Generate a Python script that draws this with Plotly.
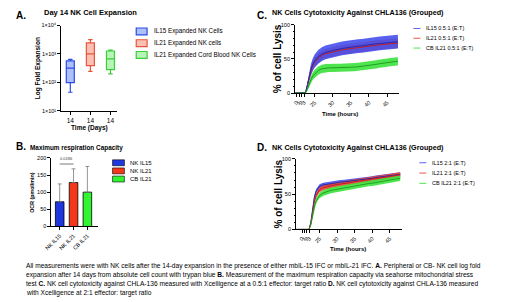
import plotly.graph_objects as go

W, H = 520, 302
def fx(p): return p / W
def fy(p): return 1 - p / H

FONT = "Liberation Sans, Arial, Helvetica, sans-serif"

# ---------------- Panel A data ----------------
a_series = ["IL15 Expanded NK Cells", "IL21 Expanded NK cells", "IL21 Expanded Cord Blood NK Cells"]
a_tick_labels = ["14", "14", "14"]
a_min = [45, 245, 200]
a_q1 = [98, 390, 280]
a_median = [320, 1000, 670]
a_q3 = [570, 2450, 1270]
a_max = [650, 3200, 1370]
a_yticks = [10, 100, 1000, 10000]
a_ytick_labels = ["1×10¹", "1×10²", "1×10³", "1×10⁴"]

# ---------------- Panel B data ----------------
b_groups = ["NK IL15", "NK IL21", "CB IL21"]
b_ocr = [72, 128, 100]
b_sd = [52, 40, 75]
b_p_label = "0.0186"
b_yticks = [0, 50, 100, 150, 200]

# ---------------- Panel C / D data ----------------
time_h = [18, 19, 20, 21, 22, 22.5, 23, 23.5, 24, 24.5,
          25, 26, 27, 28, 29, 30, 31, 32, 33, 34, 35, 36,
          37, 38, 39, 40, 41, 42, 43, 44, 45, 46, 47, 48]
t_ticks = [20, 20.7, 21.4, 22.1, 25, 30, 35, 40, 45]
t_tick_labels = ["0", "1", "2", "3", "25", "30", "35", "40", "45"]

c_series = ["IL15 0.5:1 (E:T)", "IL21 0.5:1 (E:T)", "CB IL21 0.5:1 (E:T)"]
c_il15 = [0, 0, 0, 0, 0, 1, 12, 25, 35, 42,
          47, 53, 57, 59.5, 61, 62.5, 63.5, 64.5, 65.5, 66.5, 67, 68,
          68.5, 69, 70, 70.5, 71, 72, 72.5, 73, 73.5, 74, 74.5, 75]
c_il15_err = [0, 0, 0, 0, 0, 0.5, 4, 6, 8, 9,
              9.5, 10, 10, 10, 10, 10, 10, 10, 10, 10, 10, 10,
              10, 10, 10, 10, 10, 10, 10, 10, 10, 10, 10, 10]
c_il21 = [0, 0, 0, 0, 0, 1, 11, 23, 33, 40,
          45, 51, 55, 57.5, 59, 60.5, 61.5, 62.5, 63.5, 64.5, 65, 66,
          66.5, 67, 68, 68.5, 69, 70, 70.5, 71, 71.5, 72, 72.5, 73]
c_il21_err = [0, 0, 0, 0, 0, 0.5, 3, 5, 7, 7,
              7, 7, 7, 7, 7, 7, 7, 7, 7, 7, 7, 7,
              7, 7, 7, 7, 7, 7, 7, 7, 7, 7, 7, 7]
c_cb = [0, 0, 0, 0, 0, 0.5, 6, 14, 20, 25,
        28, 33, 35.5, 36.5, 37, 37, 37, 37, 37, 37, 37.5, 38,
        38.5, 39, 40, 40.5, 41.5, 42, 43, 44, 44.5, 45.5, 46, 46.5]
c_cb_err = [0, 0, 0, 0, 0, 0.5, 3, 4, 5, 5.5,
            6, 6, 6, 6, 6, 6, 6, 6, 6, 6, 6, 6,
            6, 6, 6, 6, 6, 6, 6, 6, 6, 6, 6, 6]

d_series = ["IL15 2:1 (E:T)", "IL21 2:1 (E:T)", "CB IL21 2:1 (E:T)"]
d_il15 = [0, 0, 0, 0, 0, 10, 30, 45, 54, 58,
          61, 63, 64, 65, 65.5, 66, 67, 67.5, 68, 68.5, 69.5, 70,
          70.5, 71.5, 72, 72.5, 73.5, 74, 74.5, 75.5, 76, 76.5, 77, 78]
d_il15_err = [0, 0, 0, 0, 0, 1, 3, 3, 3, 3,
              3, 3, 3, 3, 3, 3, 3, 3, 3, 3, 3, 3,
              3, 3, 3, 3, 3, 3, 3, 3, 3, 3, 3, 3]
d_il21 = [0, 0, 0, 0, 0, 8, 25, 39, 48, 53,
          56, 59, 60.5, 61.5, 62.5, 63.5, 64, 65, 66, 66.5, 67.5, 68,
          69, 70, 70.5, 71.5, 72, 73, 73.5, 74.5, 75, 76, 76.5, 77.5]
d_il21_err = [0, 0, 0, 0, 0, 1, 3, 3.5, 3.5, 3.5,
              3.5, 3.5, 3.5, 3.5, 3.5, 3.5, 3.5, 3.5, 3.5, 3.5, 3.5, 3.5,
              3.5, 3.5, 3.5, 3.5, 3.5, 3.5, 3.5, 3.5, 3.5, 3.5, 3.5, 3.5]
d_cb = [0, 0, 0, 0, 0, 6, 20, 32, 40, 45,
        48, 51.5, 53.5, 55, 56, 57, 58, 59, 60, 60.5, 61.5, 62.5,
        63, 64, 65, 65.5, 66.5, 67.5, 68, 69, 70, 70.5, 71.5, 72.5]
d_cb_err = [0, 0, 0, 0, 0, 1, 3, 4, 4, 4,
            4, 4, 4, 4, 4, 4, 4, 4, 4, 4, 4, 4,
            4, 4, 4, 4, 4, 4, 4, 4, 4, 4, 4, 4]

caption_lines = [
    "All measurements were with NK cells after the 14-day expansion in the presence of either mbIL-15 IFC or mbIL-21 IFC. <b>A.</b> Peripheral or CB- NK cell log fold",
    "expansion after 14 days from absolute cell count with trypan blue <b>B.</b> Measurement of the maximum respiration capacity via seahorse mitochondrial stress",
    "test <b>C.</b> NK cell cytotoxicity against CHLA-136 measured with Xcelligence at a 0.5:1 effector: target ratio <b>D.</b> NK cell cytotoxicity against CHLA-136 measured",
    "with Xcelligence at 2:1 effector: target ratio",
]

# ---------------- Styles ----------------
BOX_LINE = ["rgb(45,75,230)", "rgb(232,85,60)", "rgb(60,205,60)"]
BOX_FILL = ["rgba(90,130,245,0.5)", "rgba(245,130,105,0.5)", "rgba(110,235,110,0.5)"]
BAR_COL = ["rgb(30,55,225)", "rgb(245,55,25)", "rgb(50,245,50)"]
BAND = ["rgba(70,80,235,0.9)", "rgba(235,70,50,0.9)", "rgba(60,225,60,0.9)"]
LINE = ["rgb(40,40,170)", "rgb(190,30,40)", "rgb(30,160,30)"]

fig = go.Figure()

# Panel A boxes
for i in range(3):
    fig.add_trace(go.Box(
        x=[i], q1=[a_q1[i]], median=[a_median[i]], q3=[a_q3[i]],
        lowerfence=[a_min[i]], upperfence=[a_max[i]],
        xaxis="x", yaxis="y", width=0.4, whiskerwidth=0.55,
        line=dict(color=BOX_LINE[i], width=1.2), fillcolor=BOX_FILL[i],
        boxpoints=False, showlegend=False, hoverinfo="skip"))

# Panel B bars
fig.add_trace(go.Bar(
    x=[0, 1, 2], y=b_ocr, xaxis="x2", yaxis="y2", width=0.62,
    marker=dict(color=BAR_COL, line=dict(color="black", width=0.8)),
    error_y=dict(type="data", array=b_sd, arrayminus=[0, 0, 0], symmetric=False,
                 color="rgb(120,120,120)", thickness=0.8, width=2),
    showlegend=False, hoverinfo="skip"))

def add_bands(xa, ya, means, errs, order):
    for k in order:
        m, e = means[k], errs[k]
        up = [a + b for a, b in zip(m, e)]
        lo = [a - b for a, b in zip(m, e)]
        fig.add_trace(go.Scatter(x=time_h, y=up, mode="lines", line=dict(width=0, color=BAND[k]),
                                 xaxis=xa, yaxis=ya, showlegend=False, hoverinfo="skip"))
        fig.add_trace(go.Scatter(x=time_h, y=lo, mode="lines", line=dict(width=0, color=BAND[k]),
                                 fill="tonexty", fillcolor=BAND[k],
                                 xaxis=xa, yaxis=ya, showlegend=False, hoverinfo="skip"))
    for k in order:
        fig.add_trace(go.Scatter(x=time_h, y=means[k], mode="lines",
                                 line=dict(width=1, color=LINE[k]),
                                 xaxis=xa, yaxis=ya, showlegend=False, hoverinfo="skip"))

add_bands("x3", "y3", [c_il15, c_il21, c_cb], [c_il15_err, c_il21_err, c_cb_err], [1, 0, 2])
add_bands("x4", "y4", [d_il15, d_il21, d_cb], [d_il15_err, d_il21_err, d_cb_err], [0, 1, 2])

axis_common = dict(showline=True, linecolor="black", linewidth=1, ticks="outside",
                   tickcolor="black", ticklen=3, tickwidth=1, showgrid=False, zeroline=False,
                   tickfont=dict(size=5.5, family=FONT, color="black"), fixedrange=True)

fig.update_layout(
    width=W, height=H, margin=dict(l=0, r=0, t=0, b=0),
    paper_bgcolor="white", plot_bgcolor="white", showlegend=False,
    font=dict(family=FONT, color="black"),
    xaxis=dict(domain=[fx(55), fx(112)], anchor="y", range=[-0.45, 2.35],
               tickvals=[0, 1, 2], ticktext=a_tick_labels, **{**axis_common, "tickfont": dict(size=6.5, family=FONT, color="black")}),
    yaxis=dict(domain=[fy(110), fy(23)], anchor="x", type="log", range=[1, 4],
               tickvals=a_yticks, ticktext=a_ytick_labels, **axis_common),
    xaxis2=dict(domain=[fx(45), fx(92)], anchor="y2", range=[-0.6, 2.75],
                tickvals=[0, 1, 2], ticktext=b_groups, tickangle=-45, **axis_common),
    yaxis2=dict(domain=[fy(228), fy(158)], anchor="x2", range=[0, 200],
                tickvals=b_yticks, **axis_common),
    xaxis3=dict(domain=[fx(292), fx(397)], anchor="y3", range=[19.6, 48.2],
                tickvals=t_ticks, ticktext=t_tick_labels, tickangle=-45, **axis_common),
    yaxis3=dict(domain=[fy(92), fy(22)], anchor="x3", range=[0, 100],
                tickvals=[0, 50, 100], minor=dict(ticks="outside", dtick=10, ticklen=1.5, tickcolor="black"),
                **axis_common),
    xaxis4=dict(domain=[fx(293), fx(400)], anchor="y4", range=[18.3, 48.4],
                tickvals=t_ticks, ticktext=t_tick_labels, tickangle=-45, **axis_common),
    yaxis4=dict(domain=[fy(231), fy(159)], anchor="x4", range=[0, 100],
                tickvals=[0, 50, 100], minor=dict(ticks="outside", dtick=10, ticklen=1.5, tickcolor="black"),
                **axis_common),
)

ann = []
def text(x, y, s, size, bold=False, xanchor="left", angle=0):
    ann.append(dict(xref="paper", yref="paper", x=fx(x), y=fy(y), text=f"<b>{s}</b>" if bold else s,
                    showarrow=False, xanchor=xanchor, yanchor="middle", textangle=angle,
                    font=dict(size=size, family=FONT, color="black")))

# Panel letters and titles
text(7, 13, "A.", 10, True)
text(35, 10, "Day 14 NK Cell Expansion", 7.5, True)
text(7, 146, "B.", 10, True)
text(21, 148, "Maximum respiration Capacity", 6.4, True)
text(251, 13, "C.", 10, True)
text(267, 10, "NK Cells Cytotoxicity Against CHLA136 (Grouped)", 7.2, True)
text(251, 147, "D.", 10, True)
text(267, 147, "NK Cells Cytotoxicity Against CHLA136 (Grouped)", 7.2, True)

# Axis titles
text(31, 67, "Log Fold Expansion", 6.5, True, "center", -90)
text(84, 128, "Time (Days)", 6.5, True, "center")
text(26, 193, "OCR (pmol/min)", 5.3, True, "center", -90)
text(275, 57, "% of cell Lysis", 10, True, "center", -90)
text(338, 113, "Time (hours)", 6, True, "center")
text(275, 195, "% of cell Lysis", 10, True, "center", -90)
text(346, 251, "Time (hours)", 6, True, "center")

# Significance annotation in B
fig.add_shape(type="line", xref="x2", yref="y2", x0=0, x1=1, y0=182, y1=182,
              line=dict(color="rgb(90,90,90)", width=0.8))
ann.append(dict(xref="x2", yref="y2", x=0.5, y=184, text=b_p_label, showarrow=False,
                yanchor="bottom", font=dict(size=4, family=FONT, color="rgb(60,60,60)")))

# Legend A
for i, name in enumerate(a_series):
    yc = 29 + 12 * i
    fig.add_shape(type="rect", xref="paper", yref="paper", x0=fx(131), x1=fx(142),
                  y0=fy(yc + 3.5), y1=fy(yc - 3.5), line=dict(color=BOX_LINE[i], width=1.2),
                  fillcolor=BOX_FILL[i])
    text(147, yc, name, 6.3)

# Legend B
for i, name in enumerate(b_groups):
    yc = 163 + 8.3 * i
    fig.add_shape(type="rect", xref="paper", yref="paper", x0=fx(107), x1=fx(119),
                  y0=fy(yc + 3), y1=fy(yc - 3), line=dict(color="black", width=0.6),
                  fillcolor=BAR_COL[i])
    text(123, yc, name, 6)

# Legends C and D
for i, name in enumerate(c_series):
    yc = 26 + 10 * i
    fig.add_shape(type="line", xref="paper", yref="paper", x0=fx(412), x1=fx(419),
                  y0=fy(yc), y1=fy(yc), line=dict(color=BAND[i], width=1))
    text(423, yc, name, 5.5)
for i, name in enumerate(d_series):
    yc = 163 + 10.5 * i
    fig.add_shape(type="line", xref="paper", yref="paper", x0=fx(418), x1=fx(425),
                  y0=fy(yc), y1=fy(yc), line=dict(color=BAND[i], width=1))
    text(429, yc, name, 5.5)

# Caption
for j, line in enumerate(caption_lines):
    text(17, 268 + 9.3 * j, line, 6.6)

fig.update_layout(annotations=ann)
fig.write_html("out.html", config={"displayModeBar": False, "staticPlot": True},
               post_script="document.body.style.margin='0px';document.body.style.overflow='hidden';")
